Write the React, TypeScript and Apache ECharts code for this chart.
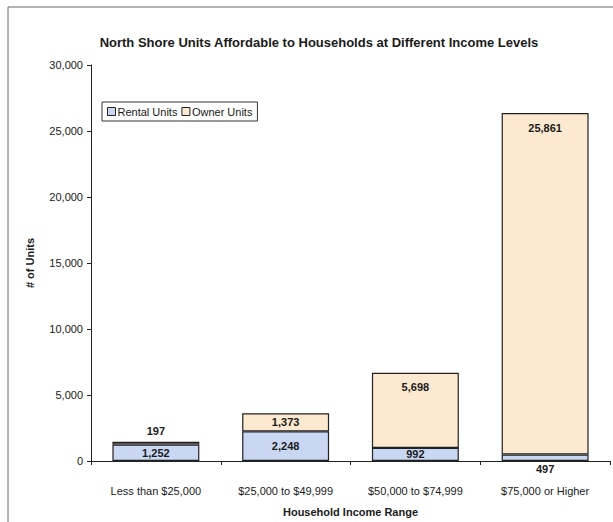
import React, { useEffect, useRef } from "react";
import * as echarts from "echarts";

const categories = [
  "Less than $25,000",
  "$25,000 to $49,999",
  "$50,000 to $74,999",
  "$75,000 or Higher",
];
const rentalUnits = [1252, 2248, 992, 497];
const ownerUnits = [197, 1373, 5698, 25861];
const yTicks = { min: 0, max: 30000, interval: 5000 };

const FONT = "Liberation Sans";
const TEXT = "#1a1a1a";

export default function App() {
  const ref = useRef<HTMLDivElement>(null);
  useEffect(() => {
    if (!ref.current) return;
    const chart = echarts.init(ref.current, null, { renderer: "svg" });
    const labelBase = {
      show: true,
      fontFamily: FONT,
      fontSize: 11,
      fontWeight: "bold" as const,
      color: TEXT,
      formatter: (p: any) => Number(p.value).toLocaleString("en-US"),
    };
    const rentalData = rentalUnits.map((v, i) => ({
      value: v,
      label: i === 3 ? { position: "bottom", distance: 2 } : { position: "inside" },
    }));
    const ownerData = ownerUnits.map((v, i) => ({
      value: v,
      label:
        i === 0
          ? { position: "top", distance: 5 }
          : i === 1
          ? { position: "inside" }
          : { position: "insideTop", distance: 9 },
    }));
    chart.setOption({
      animation: false,
      backgroundColor: "#ffffff",
      title: {
        text: "North Shore Units Affordable to Households at Different Income Levels",
        left: 314,
        textAlign: "center",
        top: 31,
        textStyle: { fontFamily: FONT, fontSize: 13, fontWeight: "bold", color: TEXT },
      },
      legend: {
        left: 102,
        top: 102,
        orient: "horizontal",
        itemWidth: 8,
        itemHeight: 8,
        itemGap: 4,
        icon: "rect",
        padding: [4, 5],
        borderColor: "#333",
        borderWidth: 1,
        textStyle: { fontFamily: FONT, fontSize: 11, color: TEXT, padding: [0, 0, 0, -3] },
        itemStyle: { borderWidth: 1, borderColor: "#222" },
        data: ["Rental Units", "Owner Units"],
      },
      grid: { left: 91, right: 3, top: 65, bottom: 61, containLabel: false },
      xAxis: {
        type: "category",
        data: categories,
        name: "Household Income Range",
        nameLocation: "middle",
        nameGap: 45,
        nameTextStyle: { fontFamily: FONT, fontSize: 11, fontWeight: "bold", color: TEXT },
        axisLine: { lineStyle: { color: "#222", width: 1 } },
        axisTick: { show: true, length: 4, lineStyle: { color: "#222" } },
        axisLabel: { fontFamily: FONT, fontSize: 11, color: TEXT, margin: 24 },
      },
      yAxis: {
        type: "value",
        min: yTicks.min,
        max: yTicks.max,
        interval: yTicks.interval,
        name: "# of Units",
        nameLocation: "middle",
        nameGap: 56,
        nameRotate: 90,
        nameTextStyle: { fontFamily: FONT, fontSize: 11, fontWeight: "bold", color: TEXT },
        axisLine: { show: true, lineStyle: { color: "#222", width: 1 } },
        axisTick: { show: true, length: 4, lineStyle: { color: "#222" } },
        splitLine: { show: false },
        axisLabel: {
          fontFamily: FONT,
          fontSize: 11,
          color: TEXT,
          margin: 8,
          formatter: (v: number) => v.toLocaleString("en-US"),
        },
      },
      series: [
        {
          name: "Rental Units",
          type: "bar",
          stack: "units",
          barWidth: "67%",
          data: rentalData,
          itemStyle: { color: "#c9d7f3", borderColor: "#222", borderWidth: 1.2 },
          label: labelBase,
        },
        {
          name: "Owner Units",
          type: "bar",
          stack: "units",
          barWidth: "67%",
          data: ownerData,
          itemStyle: { color: "#fde8d0", borderColor: "#222", borderWidth: 1.2 },
          label: labelBase,
        },
      ],
      graphic: [
        {
          type: "rect",
          shape: { x: 8, y: 7, width: 700, height: 600 },
          style: { fill: "none", stroke: "#666", lineWidth: 1 },
          silent: true,
        },
      ],
    });
    return () => chart.dispose();
  }, []);
  return (
    <div
      ref={ref}
      style={{ position: "fixed", left: 0, top: 0, width: 613, height: 522 }}
    />
  );
}
